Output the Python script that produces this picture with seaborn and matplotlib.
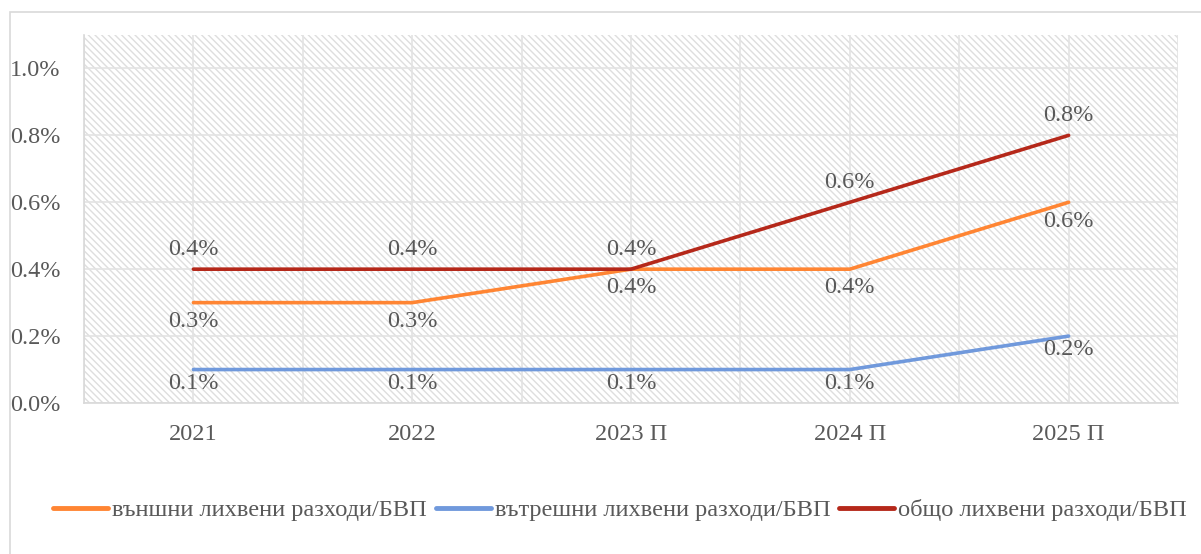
import pandas as pd
import matplotlib
matplotlib.use('Agg')
import matplotlib.pyplot as plt
import matplotlib.patches as mpatches
from matplotlib.ticker import FuncFormatter, MultipleLocator
import seaborn as sns

# Данни
years = ['2021', '2022', '2023 П', '2024 П', '2025 П']
external = [0.3, 0.3, 0.4, 0.4, 0.6]
internal = [0.1, 0.1, 0.1, 0.1, 0.2]
total = [0.4, 0.4, 0.4, 0.6, 0.8]
names = ['външни лихвени разходи/БВП', 'вътрешни лихвени разходи/БВП', 'общо лихвени разходи/БВП']
colors = ['#FF8533', '#7099DC', '#B5281A']

df = pd.DataFrame({
    'year': years * 3,
    'value': external + internal + total,
    'series': [names[0]] * 5 + [names[1]] * 5 + [names[2]] * 5,
})

sns.set_style('white')
plt.rcParams['font.family'] = ['Liberation Serif', 'DejaVu Serif']
plt.rcParams['hatch.color'] = '#dedede'
plt.rcParams['hatch.linewidth'] = 1.0
text_color = '#595959'
grid_color = '#e3e3e3'

fig = plt.figure(figsize=(12.01, 5.54), dpi=100)
ax = fig.add_axes([84 / 1201, 1 - 403 / 554, (1178 - 84) / 1201, (403 - 35) / 554])

# рамка на фигурата
fig.patches.append(mpatches.Rectangle((9.5 / 1201, -0.1), 1.2, 1 - 12 / 554 + 0.1,
                                      transform=fig.transFigure, fill=False,
                                      edgecolor='#d9d9d9', linewidth=1.2, zorder=0))

ax.patch.set_hatch('\\' * 5)
ax.patch.set_edgecolor('#dedede')

sns.lineplot(data=df, x='year', y='value', hue='series', palette=colors,
             linewidth=2.6, ax=ax, legend=False, sort=False)

ax.set_xlim(-0.5, 4.5)
ax.set_ylim(0, 1.1)
ax.yaxis.set_major_locator(MultipleLocator(0.2))
ax.yaxis.set_major_formatter(FuncFormatter(lambda v, p: f'{v:.1f}%'))
ax.set_xticks(range(5))
ax.set_xticklabels(years)
ax.set_xticks([i - 0.5 for i in range(6)], minor=True)
ax.grid(True, which='both', axis='x', color=grid_color, linewidth=1.2)
ax.grid(True, which='major', axis='y', color=grid_color, linewidth=1.2)
ax.set_axisbelow(True)
ax.tick_params(axis='both', length=0, labelsize=17.5, labelcolor=text_color)
ax.tick_params(axis='x', pad=15)
ax.tick_params(axis='y', pad=17)
ax.set_xlabel('')
ax.set_ylabel('')
for side in ['top', 'right']:
    ax.spines[side].set_visible(False)
for side in ['left', 'bottom']:
    ax.spines[side].set_color('#d9d9d9')
    ax.spines[side].set_linewidth(1.2)

# етикети
for i in range(5):
    ax.annotate(f'{external[i]:.1f}%', (i, external[i]), xytext=(0, -13.5), textcoords='offset points',
                ha='center', va='center', fontsize=17.5, color=text_color)
    ax.annotate(f'{internal[i]:.1f}%', (i, internal[i]), xytext=(0, -10), textcoords='offset points',
                ha='center', va='center', fontsize=17.5, color=text_color)
    ax.annotate(f'{total[i]:.1f}%', (i, total[i]), xytext=(0, 14), textcoords='offset points',
                ha='center', va='center', fontsize=17.5, color=text_color)

handles = [plt.Line2D([], [], color=c, linewidth=3.5, solid_capstyle='round') for c in colors]
fig.legend(handles, names, loc='center', bbox_to_anchor=(620 / 1201, 1 - 510 / 554), ncol=3,
           frameon=False, fontsize=17.6, labelcolor=text_color, handlelength=2.25,
           handletextpad=0.16, columnspacing=0.37)

fig.savefig('out.png', dpi=100)
